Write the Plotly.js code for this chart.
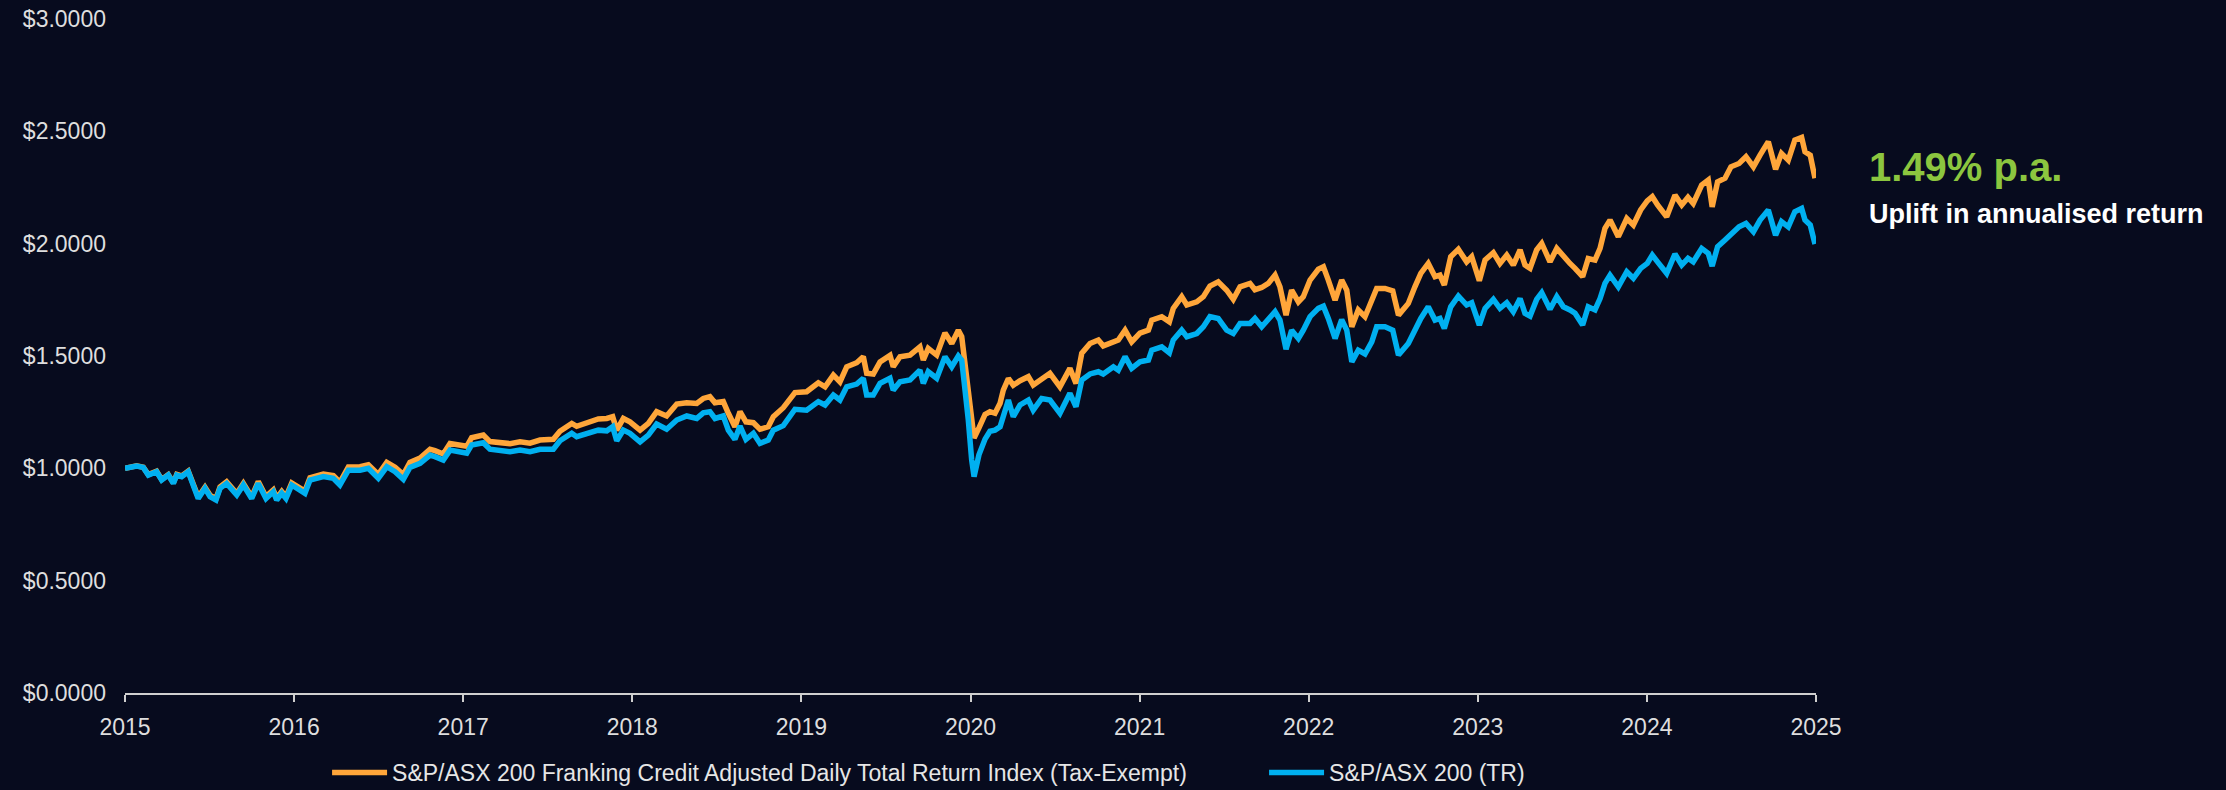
<!DOCTYPE html>
<html>
<head>
<meta charset="utf-8">
<script src="https://cdn.plot.ly/plotly-3.0.1.min.js"></script>
<style>
  html, body { margin: 0; padding: 0; background: #070b1e; }
  #chart { width: 2226px; height: 790px; }
</style>
</head>
<body>
<div id="chart"></div>
<script>
// ---- Data ----
const years = [
  2015.000, 2015.069, 2015.108, 2015.138, 2015.187, 2015.217, 2015.256, 2015.286, 2015.306, 2015.335,
  2015.374, 2015.394, 2015.433, 2015.473, 2015.503, 2015.538, 2015.562, 2015.601, 2015.661, 2015.700,
  2015.749, 2015.788, 2015.834, 2015.877, 2015.897, 2015.927, 2015.952, 2015.986, 2016.035, 2016.064,
  2016.094, 2016.173, 2016.232, 2016.271, 2016.321, 2016.390, 2016.439, 2016.498, 2016.548, 2016.597,
  2016.646, 2016.685, 2016.745, 2016.804, 2016.833, 2016.882, 2016.922, 2016.971, 2017.021, 2017.050,
  2017.119, 2017.158, 2017.218, 2017.277, 2017.336, 2017.395, 2017.454,
  2017.533, 2017.572, 2017.642, 2017.671, 2017.750, 2017.799, 2017.849, 2017.884, 2017.908, 2017.947,
  2017.986, 2018.046, 2018.095, 2018.144, 2018.203, 2018.263, 2018.322, 2018.381, 2018.420, 2018.459,
  2018.489, 2018.538, 2018.568, 2018.607, 2018.637, 2018.672, 2018.716, 2018.755, 2018.804, 2018.834,
  2018.893, 2018.962, 2019.031, 2019.100, 2019.140, 2019.189, 2019.228, 2019.268, 2019.327, 2019.366,
  2019.386, 2019.425, 2019.465, 2019.524, 2019.543, 2019.583, 2019.642, 2019.701, 2019.721, 2019.750,
  2019.800, 2019.849, 2019.889, 2019.928, 2019.948, 2019.967, 2019.987, 2020.007, 2020.021,
  2020.050, 2020.086, 2020.115, 2020.145, 2020.175, 2020.194, 2020.224, 2020.253, 2020.293, 2020.342,
  2020.371, 2020.421, 2020.470, 2020.529, 2020.588, 2020.624, 2020.658, 2020.707, 2020.756, 2020.785,
  2020.845, 2020.874, 2020.914, 2020.953, 2021.002, 2021.052, 2021.072, 2021.131, 2021.176, 2021.199,
  2021.249, 2021.279, 2021.338, 2021.377, 2021.416, 2021.465, 2021.515, 2021.554, 2021.594, 2021.653,
  2021.682, 2021.722, 2021.761, 2021.801, 2021.830, 2021.866, 2021.899, 2021.939, 2021.968, 2022.008,
  2022.057, 2022.087, 2022.116, 2022.156, 2022.195, 2022.225, 2022.255, 2022.293, 2022.333, 2022.373,
  2022.402, 2022.451, 2022.497, 2022.531, 2022.589,
  2022.628, 2022.663, 2022.707, 2022.747, 2022.776, 2022.802, 2022.840, 2022.885, 2022.934, 2022.964,
  2023.009, 2023.043, 2023.092, 2023.131, 2023.171, 2023.210, 2023.250, 2023.279, 2023.309, 2023.348,
  2023.378, 2023.427, 2023.467, 2023.506, 2023.545, 2023.575, 2023.620, 2023.653, 2023.693, 2023.723,
  2023.752, 2023.782, 2023.831, 2023.881, 2023.920, 2023.963, 2024.002, 2024.032, 2024.063, 2024.117,
  2024.166, 2024.206, 2024.243, 2024.274, 2024.324, 2024.363, 2024.386, 2024.418, 2024.462, 2024.497,
  2024.545, 2024.586, 2024.630, 2024.669, 2024.718, 2024.761, 2024.796, 2024.836, 2024.875, 2024.915,
  2024.935, 2024.966, 2024.984, 2024.994
];

// S&P/ASX 200 Franking Credit Adjusted Daily Total Return Index (Tax-Exempt)
const frankingAdj = [
  1.000, 1.011, 1.005, 0.972, 0.987, 0.950, 0.972, 0.936, 0.973, 0.966,
  0.988, 0.945, 0.872, 0.916, 0.880, 0.865, 0.917, 0.940, 0.888, 0.933,
  0.873, 0.941, 0.874, 0.904, 0.867, 0.897, 0.874, 0.935, 0.913, 0.899,
  0.958, 0.975, 0.968, 0.938, 1.006, 1.007, 1.016, 0.973, 1.026, 1.005,
  0.972, 1.026, 1.046, 1.085, 1.079, 1.064, 1.110, 1.104, 1.098, 1.136,
  1.148, 1.119, 1.116, 1.110, 1.118, 1.112, 1.126,
  1.129, 1.165, 1.200, 1.187, 1.208, 1.220, 1.222, 1.230, 1.170, 1.222,
  1.207, 1.170, 1.200, 1.252, 1.233, 1.286, 1.292, 1.289, 1.311, 1.319,
  1.292, 1.297, 1.245, 1.185, 1.252, 1.207, 1.203, 1.174, 1.185, 1.230,
  1.270, 1.337, 1.341, 1.381, 1.363, 1.415, 1.385, 1.452, 1.470, 1.497,
  1.423, 1.420, 1.474, 1.503, 1.452, 1.497, 1.504, 1.541, 1.482, 1.534,
  1.504, 1.603, 1.556, 1.615, 1.586, 1.467, 1.304, 1.180, 1.135,
  1.180, 1.240, 1.252, 1.245, 1.290, 1.348, 1.400, 1.370, 1.390, 1.408,
  1.371, 1.401, 1.423, 1.363, 1.445, 1.378, 1.512, 1.556, 1.571, 1.545,
  1.566, 1.571, 1.615, 1.563, 1.602, 1.615, 1.660, 1.675, 1.652, 1.712,
  1.764, 1.727, 1.741, 1.764, 1.811, 1.830, 1.793, 1.752, 1.808, 1.823,
  1.795, 1.805, 1.823, 1.860, 1.808, 1.682, 1.793, 1.741, 1.764, 1.838,
  1.886, 1.897, 1.838, 1.749, 1.838, 1.793, 1.630, 1.705, 1.675, 1.756,
  1.801, 1.801, 1.790, 1.682, 1.734,
  1.808, 1.868, 1.912, 1.853, 1.860, 1.816, 1.942, 1.975, 1.919, 1.942,
  1.835, 1.927, 1.960, 1.912, 1.949, 1.905, 1.972, 1.905, 1.890, 1.972,
  2.001, 1.919, 1.979, 1.942, 1.912, 1.890, 1.853, 1.934, 1.927, 1.979,
  2.068, 2.105, 2.031, 2.112, 2.083, 2.150, 2.190, 2.209, 2.172, 2.120,
  2.216, 2.172, 2.206, 2.179, 2.261, 2.283, 2.164, 2.275, 2.291, 2.342,
  2.357, 2.387, 2.342, 2.394, 2.454, 2.331, 2.402, 2.372, 2.461, 2.473,
  2.409, 2.394, 2.320, 2.291
];

// S&P/ASX 200 (TR)
const asx200TR = [
  1.000, 1.010, 1.004, 0.970, 0.985, 0.948, 0.970, 0.933, 0.970, 0.963,
  0.985, 0.940, 0.866, 0.911, 0.874, 0.859, 0.911, 0.933, 0.881, 0.926,
  0.866, 0.933, 0.866, 0.896, 0.859, 0.889, 0.866, 0.926, 0.903, 0.889,
  0.948, 0.963, 0.956, 0.926, 0.992, 0.992, 1.000, 0.956, 1.007, 0.985,
  0.951, 1.004, 1.022, 1.059, 1.052, 1.037, 1.081, 1.074, 1.067, 1.104,
  1.114, 1.085, 1.081, 1.074, 1.081, 1.074, 1.085,
  1.085, 1.123, 1.156, 1.141, 1.156, 1.170, 1.167, 1.185, 1.123, 1.170,
  1.156, 1.118, 1.148, 1.197, 1.174, 1.215, 1.233, 1.222, 1.247, 1.252,
  1.222, 1.233, 1.170, 1.129, 1.188, 1.129, 1.156, 1.111, 1.126, 1.170,
  1.190, 1.263, 1.259, 1.297, 1.282, 1.326, 1.304, 1.363, 1.375, 1.401,
  1.326, 1.326, 1.378, 1.401, 1.348, 1.385, 1.393, 1.437, 1.378, 1.430,
  1.401, 1.497, 1.452, 1.500, 1.482, 1.363, 1.215, 1.037, 0.963,
  1.060, 1.130, 1.165, 1.170, 1.185, 1.230, 1.304, 1.230, 1.282, 1.304,
  1.259, 1.311, 1.304, 1.245, 1.334, 1.274, 1.393, 1.420, 1.430, 1.420,
  1.452, 1.437, 1.497, 1.445, 1.474, 1.482, 1.526, 1.541, 1.514, 1.571,
  1.615, 1.586, 1.600, 1.630, 1.675, 1.667, 1.615, 1.600, 1.645, 1.645,
  1.667, 1.630, 1.660, 1.697, 1.660, 1.530, 1.615, 1.578, 1.615, 1.675,
  1.712, 1.722, 1.667, 1.578, 1.662, 1.615, 1.474, 1.526, 1.509, 1.563,
  1.630, 1.630, 1.615, 1.504, 1.556,
  1.615, 1.667, 1.719, 1.660, 1.667, 1.623, 1.719, 1.767, 1.727, 1.737,
  1.638, 1.712, 1.752, 1.712, 1.737, 1.697, 1.756, 1.690, 1.678, 1.752,
  1.782, 1.708, 1.764, 1.719, 1.705, 1.690, 1.638, 1.719, 1.705, 1.756,
  1.823, 1.860, 1.808, 1.875, 1.846, 1.890, 1.912, 1.949, 1.919, 1.868,
  1.954, 1.905, 1.935, 1.919, 1.979, 1.957, 1.900, 1.986, 2.016, 2.038,
  2.075, 2.090, 2.053, 2.105, 2.150, 2.038, 2.098, 2.075, 2.142, 2.157,
  2.105, 2.083, 2.024, 1.998
];

const seriesNames = [
  'S&P/ASX 200 Franking Credit Adjusted Daily Total Return Index (Tax-Exempt)',
  'S&P/ASX 200 (TR)'
];
const xTickVals = [2015, 2016, 2017, 2018, 2019, 2020, 2021, 2022, 2023, 2024, 2025];
const xTickText = ['2015', '2016', '2017', '2018', '2019', '2020', '2021', '2022', '2023', '2024', '2025'];
const yTickVals = [0, 0.5, 1.0, 1.5, 2.0, 2.5, 3.0];
const yTickText = ['$0.0000', '$0.5000', '$1.0000', '$1.5000', '$2.0000', '$2.5000', '$3.0000'];
const upliftValue = '1.49% p.a.';
const upliftLabel = 'Uplift in annualised return';

// ---- Styling ----
const BG = '#070b1e';
const ORANGE = '#ffa63a';
const BLUE = '#00b0f0';
const FONT = 'Liberation Sans, Arial, Helvetica, sans-serif';

const traces = [
  {
    x: years, y: frankingAdj, name: seriesNames[0], type: 'scatter', mode: 'lines',
    line: { color: ORANGE, width: 5.5 }, legend: 'legend', hoverinfo: 'x+y'
  },
  {
    x: years, y: asx200TR, name: seriesNames[1], type: 'scatter', mode: 'lines',
    line: { color: BLUE, width: 5.5 }, legend: 'legend2', hoverinfo: 'x+y'
  }
];

const legendFont = { family: FONT, size: 23, color: '#e6e6e6' };

const layout = {
  width: 2226, height: 790,
  paper_bgcolor: BG, plot_bgcolor: BG,
  margin: { l: 125, r: 410, t: 19, b: 97, pad: 0, autoexpand: false },
  font: { family: FONT, color: '#e0e0e0', size: 23 },
  xaxis: {
    type: 'linear', range: [2015, 2025],
    tickmode: 'array', tickvals: xTickVals, ticktext: xTickText,
    showgrid: false, zeroline: false,
    showline: true, linecolor: '#cfcfcf', linewidth: 2,
    ticks: 'outside', ticklen: 7, tickwidth: 2, tickcolor: '#cfcfcf',
    ticklabelstandoff: 5,
    tickfont: { family: FONT, size: 23, color: '#dedede' }
  },
  yaxis: {
    range: [0, 3], tickmode: 'array', tickvals: yTickVals, ticktext: yTickText,
    showgrid: false, zeroline: false, showline: false, ticks: '',
    ticklabelstandoff: 18,
    tickfont: { family: FONT, size: 23, color: '#dedede' }
  },
  showlegend: true,
  legend: {
    orientation: 'h', x: 0.1195, xanchor: 'left', y: -0.118, yanchor: 'middle',
    font: legendFont, bgcolor: 'rgba(0,0,0,0)', itemwidth: 55
  },
  legend2: {
    orientation: 'h', x: 0.6736, xanchor: 'left', y: -0.118, yanchor: 'middle',
    font: legendFont, bgcolor: 'rgba(0,0,0,0)', itemwidth: 55
  },
  annotations: [
    {
      xref: 'paper', yref: 'paper', x: 1.0302, y: 0.7804, xanchor: 'left', yanchor: 'middle',
      text: upliftValue, showarrow: false,
      font: { family: FONT, size: 40, color: '#8cc63f', weight: 'bold' }
    },
    {
      xref: 'paper', yref: 'paper', x: 1.0302, y: 0.7107, xanchor: 'left', yanchor: 'middle',
      text: upliftLabel, showarrow: false,
      font: { family: FONT, size: 27, color: '#ffffff', weight: 'bold' }
    }
  ]
};

Plotly.newPlot('chart', traces, layout, { displayModeBar: false, responsive: false });
</script>
</body>
</html>
